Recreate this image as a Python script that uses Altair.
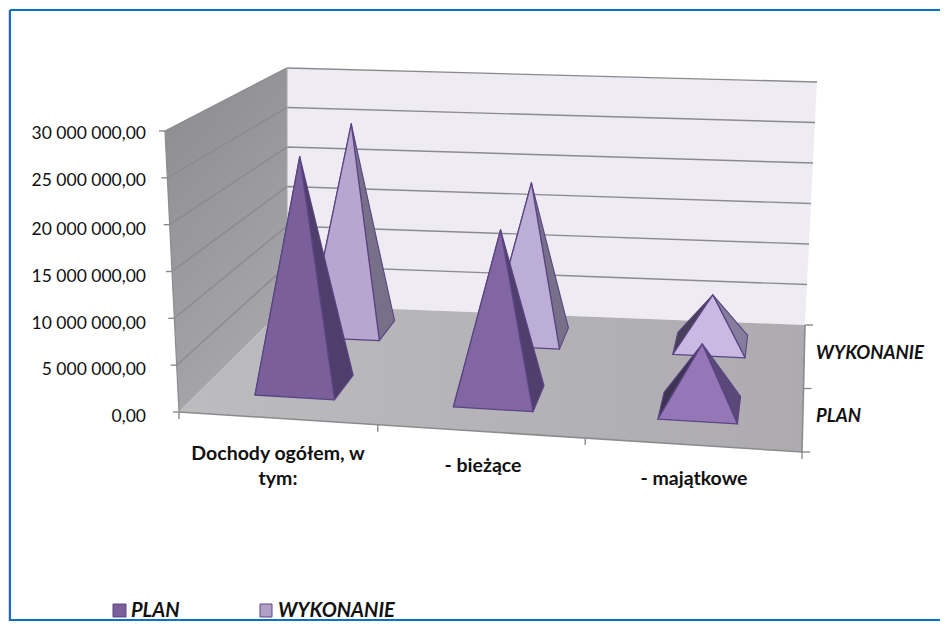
import altair as alt
import pandas as pd

# ---- values
categories = ["Dochody ogółem, w tym:", "- bieżące", "- majątkowe"]
plan = [25_500_000, 18_400_000, 7_000_000]
wykonanie = [25_000_000, 18_600_000, 6_000_000]
value_ticks = [0, 5_000_000, 10_000_000, 15_000_000, 20_000_000, 25_000_000, 30_000_000]
value_labels = ["0,00", "5 000 000,00", "10 000 000,00", "15 000 000,00",
                "20 000 000,00", "25 000 000,00", "30 000 000,00"]
series_names = ["PLAN", "WYKONANIE"]

# ---- 3-D box used to project (category, series depth, value)
VMAX = 30_000_000
FL0, FR0, BL0, BR0 = (179, 412), (802, 452), (287, 305), (805, 325)
FL1, FR1, BL1, BR1 = (165, 131), (817, 162), (287, 68), (817, 82)


def mix(a, b, t):
    return (a[0] + (b[0] - a[0]) * t, a[1] + (b[1] - a[1]) * t)


def project(u, d, v):
    low = mix(mix(FL0, FR0, u), mix(BL0, BR0, u), d)
    top = mix(mix(FL1, FR1, u), mix(BL1, BR1, u), d)
    return mix(low, top, v / VMAX)


polys = []  # (id, points, fill, stroke, width)


def add(points, fill, stroke=None, width=1.0):
    polys.append((f"p{len(polys):02d}", points, fill, stroke, width))


def grad(c1, c2, x1=0, y1=0, x2=0, y2=1):
    return alt.Gradient(gradient="linear", x1=x1, y1=y1, x2=x2, y2=y2,
                        stops=[alt.GradientStop(color=c1, offset=0),
                               alt.GradientStop(color=c2, offset=1)])


# walls
add([project(0, 0, 0), project(0, 1, 0), project(0, 1, VMAX), project(0, 0, VMAX)],
    grad("#8e8d91", "#aaa9ad", 0.3, 0, 0.7, 1))
add([project(0, 1, 0), project(1, 1, 0), project(1, 1, VMAX), project(0, 1, VMAX)], "#eeecf2")
add([project(0, 0, 0), project(1, 0, 0), project(1, 1, 0), project(0, 1, 0)],
    grad("#bcbbbe", "#adabb0", 0, 0, 1, 0))

lines = []  # (points, colour, width)
GRID = "#8b8b8d"
for v in value_ticks[1:]:
    lines.append(([project(0, 0, v), project(0, 1, v), project(1, 1, v)], GRID, 1.4))
lines.append(([project(0, 1, 0), project(0, 1, VMAX)], "#a5a5a7", 1))
lines.append(([project(0, 0, 0), project(0, 0, VMAX)], GRID, 1.2))
lines.append(([project(0, 0, 0), project(1, 0, 0), project(1, 1, 0)], GRID, 1.6))
for v in value_ticks:
    p = project(0, 0, v)
    lines.append(([(p[0] - 6, p[1]), p], GRID, 1.4))
for u in (0, 0.319, 0.652, 1):
    p = project(u, 0, 0)
    lines.append(([p, (p[0], p[1] + 7)], GRID, 1.4))
for d in (0, 0.5, 1):
    p = project(1, d, 0)
    lines.append(([p, (p[0] + 8, p[1])], GRID, 1.4))

# pyramids: colours per face (front, right, left)
U = [0.158, 0.487, 0.826]
HW = 0.066
OUTLINE = "#5a4584"
colors_back = [("#b7a6cf", "#787088", "#4c4560"), ("#bdaed7", "#787088", "#4c4560"),
               ("#cabae3", "#867c9c", "#484058")]
colors_front = [("#7a5f9b", "#4f3d6b", "#3e3350"), ("#8266a3", "#503f6c", "#3e3350"),
                ("#9577b8", "#5a4878", "#3e3350")]


def pyramid(u, d0, d1, value, cols):
    dc = (d0 + d1) / 2
    apex = project(u, dc, value)
    a, b = project(u - HW, d0, 0), project(u + HW, d0, 0)
    c, e = project(u + HW, d1, 0), project(u - HW, d1, 0)
    add([e, a, apex], cols[2], OUTLINE, 1.1)
    add([b, c, apex], cols[1], OUTLINE, 1.1)
    add([a, b, apex], cols[0], OUTLINE, 1.3)


for i in range(3):
    pyramid(U[i], 0.72, 0.90, wykonanie[i], colors_back[i])
    pyramid(U[i], 0.19, 0.41, plan[i], colors_front[i])

X = alt.Scale(domain=[8, 940], range=[0, 932], nice=False, zero=False)
Y = alt.Scale(domain=[8, 621], range=[0, 613], nice=False, zero=False)


def xy(**kw):
    return dict(x=alt.X("x:Q", scale=X, axis=None), y=alt.Y("y:Q", scale=Y, axis=None), **kw)


def draw_poly(points, fill, stroke, width):
    df = pd.DataFrame({"x": [p[0] for p in points], "y": [p[1] for p in points],
                       "i": range(len(points))})
    kw = dict(interpolate="linear-closed", fill=fill, filled=True, strokeJoin="round")
    kw["stroke"] = stroke if stroke else "transparent"
    kw["strokeWidth"] = width
    return alt.Chart(df).mark_line(**kw).encode(**xy(order="i:Q"))


def draw_line(points, color, width):
    df = pd.DataFrame({"x": [p[0] for p in points], "y": [p[1] for p in points],
                       "i": range(len(points))})
    return alt.Chart(df).mark_line(color=color, strokeWidth=width).encode(**xy(order="i:Q"))


def label(rows, size, weight="normal", style="normal", align="left", color="#111111"):
    df = pd.DataFrame(rows, columns=["x", "y", "t"])
    return alt.Chart(df).mark_text(font="Lato", fontSize=size, fontWeight=weight, fontStyle=style,
                                   align=align, baseline="middle", color=color).encode(
        **xy(text="t:N"))


layers = []
# wall / floor first, then grid, then pyramids
for pid, pts, fill, stroke, width in polys[:3]:
    layers.append(draw_poly(pts, fill, stroke, width))
for pts, col, w in lines:
    layers.append(draw_line(pts, col, w))
for pid, pts, fill, stroke, width in polys[3:]:
    layers.append(draw_poly(pts, fill, stroke, width))

# value labels
ys = [416.5, 369.5, 323.5, 276.5, 229.5, 180.5, 133.5]
layers.append(label([(146, y, t) for y, t in zip(ys, value_labels)], 17.5, align="right"))
# category labels
cat_rows = [(278, 454, "Dochody ogółem, w"), (278, 479, "tym:"),
            (483, 466, categories[1]), (694, 479, categories[2])]
layers.append(label(cat_rows, 19.5, weight="bold", align="center"))
# depth labels
layers.append(label([(816, 353, series_names[1]), (816, 416, series_names[0])], 18.5,
                    weight="bold", style="italic"))
# legend
layers.append(draw_poly([(113, 604), (126, 604), (126, 617), (113, 617)], "#7a5f9b", OUTLINE, 1))
layers.append(draw_poly([(260, 604), (272, 604), (272, 617), (260, 617)], "#b0a0c8", OUTLINE, 1))
layers.append(label([(131, 611, series_names[0]), (278, 611, series_names[1])], 20,
                    weight="bold", style="italic"))
# frame
layers.append(draw_line([(8.4, 10), (8.4, 621)], "#f6cfcf", 1.5))
layers.append(draw_line([(10, 10), (10, 620), (940, 620)], "#0a72c4", 2))
layers.append(draw_line([(10, 10), (940, 10)], "#0a72c4", 2))

chart = alt.layer(*layers).properties(
    width=932, height=613, padding=0, background="white",
    autosize=alt.AutoSizeParams(type="none"),
).configure_view(stroke=None)

chart.save("out.html", embed_options={"renderer": "svg", "actions": False})
